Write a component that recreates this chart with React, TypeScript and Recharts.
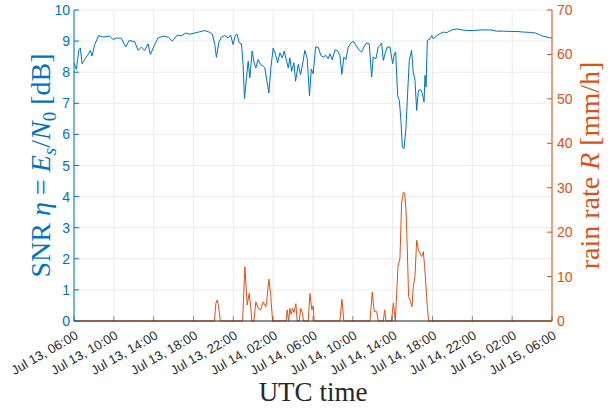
import { CartesianGrid, Line, LineChart, XAxis, YAxis } from "recharts";

// hours after Jul 13, 06:00 UTC
const snrHours = [
  0, 0.24, 0.5, 0.64, 0.81, 1.07, 1.41, 1.64, 1.81, 2.08, 2.48, 2.92, 3.59, 3.92, 4.26, 4.76, 5.2, 5.53, 6.1,
  6.44, 6.77, 7.1, 7.44, 7.67, 8.11, 8.44, 8.95, 9.45, 9.88, 10.35, 10.79, 11.23, 11.63, 12.13, 12.63, 13.14,
  13.57, 13.9, 14.14, 14.3, 14.54, 14.8, 15.14, 15.47, 15.74, 15.97, 16.21, 16.38, 16.58, 16.82, 16.98, 17.12,
  17.32, 17.49, 17.66, 17.89, 18.09, 18.26, 18.49, 18.73, 19.0, 19.16, 19.4, 19.57, 19.77, 20.0, 20.24, 20.44,
  20.68, 20.91, 21.11, 21.35, 21.51, 21.68, 21.85, 22.08, 22.25, 22.52, 22.75, 22.95, 23.18, 23.42, 23.65,
  23.83, 24.02, 24.26, 24.53, 24.79, 25.03, 25.3, 25.53, 25.7, 25.93, 26.2, 26.44, 26.7, 26.9, 27.1, 27.3,
  27.54, 27.81, 28.04, 28.31, 28.61, 28.88, 29.11, 29.38, 29.65, 29.89, 30.05, 30.32, 30.55, 30.72, 30.89,
  31.06, 31.23, 31.46, 31.73, 32.0, 32.17, 32.3, 32.5, 32.67, 32.83, 32.97, 33.14, 33.34, 33.5, 33.67, 33.9,
  34.07, 34.24, 34.41, 34.58, 34.81, 34.98, 35.15, 35.25, 35.35, 35.48, 35.75, 35.92, 36.09, 36.42, 36.76,
  37.1, 37.43, 37.94, 38.44, 38.94, 39.45, 40.12, 40.96, 41.8, 42.47, 43.14, 43.81, 44.48, 45.15, 45.82,
  46.33, 46.83, 47.17, 47.5, 47.84, 48.0,
];
const snrValues = [
  8.3, 8.09, 8.73, 8.78, 8.27, 8.41, 8.57, 8.7, 8.52, 8.89, 9.18, 9.13, 9.16, 9.05, 9.1, 9.09, 8.81, 9.02, 8.98,
  8.7, 8.81, 8.7, 8.91, 8.57, 8.89, 9.1, 9.16, 9.13, 9.0, 9.19, 9.17, 9.26, 9.22, 9.26, 9.3, 9.34,
  9.29, 9.22, 8.89, 8.48, 8.95, 9.13, 9.18, 9.1, 9.19, 8.89, 9.19, 9.22, 8.95, 8.91, 8.25, 7.15,
  7.82, 8.35, 7.82, 8.68, 8.3, 8.14, 8.41, 8.25, 8.19, 8.14, 7.66, 7.33, 8.14, 8.78, 8.57, 8.3,
  8.62, 8.46, 8.68, 8.35, 8.14, 8.46, 8.03, 8.3, 7.71, 8.25, 7.92, 8.25, 8.7, 8.45, 7.24,
  8.1, 7.95, 8.81, 8.8, 8.54, 8.49, 8.54, 8.43, 8.59, 8.4, 8.72, 8.7, 8.54, 7.93, 8.49, 8.4,
  8.81, 8.94, 9.0, 8.86, 8.72, 8.65, 8.81, 8.94, 8.91, 7.84, 8.49, 8.43, 8.81, 8.86, 8.94,
  8.38, 8.59, 8.81, 8.81, 8.27, 8.59, 8.65, 7.25, 7.09, 6.45, 5.59, 5.54, 6.23, 7.31, 8.38, 8.7,
  8.0, 7.74, 6.77, 7.41, 7.44, 7.31, 7.04, 7.9, 7.52, 9.02, 9.07, 9.18, 9.07, 9.18, 9.24,
  9.29, 9.27, 9.36, 9.39, 9.36, 9.34, 9.34, 9.36, 9.36, 9.32, 9.32, 9.31, 9.31, 9.29, 9.28,
  9.26, 9.19, 9.15, 9.13, 9.1, 9.11,
];

const rainHours = [
  0, 14.1, 14.25, 14.37, 14.5, 14.7, 16.93, 17.16, 17.39, 17.59, 17.76, 17.86, 18.06, 18.26, 18.5, 18.73, 19.0,
  19.27, 19.4, 19.57, 19.74, 19.94, 21.3, 21.41, 21.55, 21.68, 21.81, 21.95, 22.1, 22.28, 22.41, 22.6, 22.78,
  22.92, 23.05, 23.52, 23.69, 23.89, 24.02, 24.12, 26.7, 26.9, 27.1, 29.72, 29.95, 30.15, 30.39, 30.56, 31.06,
  31.2, 31.33, 31.87, 32.07, 32.27, 32.4, 32.53, 32.73, 32.9, 33.07, 33.2, 33.34, 33.47, 33.6, 33.8, 33.94,
  34.07, 34.24, 34.41, 34.58, 34.74, 34.91, 35.08, 35.21, 35.35, 35.48, 35.61, 48,
];
const rainValues = [
  0, 0, 4.0, 4.7, 3.5, 0, 0, 12.2, 3.6, 6.2, 2.85, 0, 0, 4.3, 2.85, 2.5, 4.3,
  3.2, 5.5, 9.4, 6.2, 0, 0, 2.5, 0, 2.85, 1.5, 2.85, 1.9, 3.9, 0, 0, 2.85,
  1.9, 0, 0, 6.2, 2.5, 3.4, 0, 0, 4.9, 0, 0, 6.5, 2.1, 2.1, 0, 0,
  2.5, 0, 0, 4.0, 0, 6.2, 12.2, 14.1, 26.5, 29.0, 28.8, 25.0, 16.0, 5.5, 4.3, 3.2,
  7.7, 10.0, 18.2, 16.0, 15.2, 14.5, 15.6, 12.2, 7.7, 3.2, 0, 0,
];

const timeTicks = [0, 4, 8, 12, 16, 20, 24, 28, 32, 36, 40, 44, 48];
const timeLabels = [
  "Jul 13, 06:00", "Jul 13, 10:00", "Jul 13, 14:00", "Jul 13, 18:00", "Jul 13, 22:00",
  "Jul 14, 02:00", "Jul 14, 06:00", "Jul 14, 10:00", "Jul 14, 14:00", "Jul 14, 18:00",
  "Jul 14, 22:00", "Jul 15, 02:00", "Jul 15, 06:00",
];
const snrTicks = [0, 1, 2, 3, 4, 5, 6, 7, 8, 9, 10];
const rainTicks = [0, 10, 20, 30, 40, 50, 60, 70];

const snrData = snrHours.map((t, i) => ({ t, snr: snrValues[i] }));
const rainData = rainHours.map((t, i) => ({ t, rain: rainValues[i] }));

const BLUE = "#0072BD";
const ORANGE = "#D95319";
const DARK = "#262626";
const SANS = "'Liberation Sans', Arial, sans-serif";
const SERIF = "'Liberation Serif', 'Times New Roman', serif";

const BottomTick = ({ x, y, payload }: any) => {
  const label = timeLabels[timeTicks.indexOf(payload.value)];
  const ax = x + 5;
  const ay = y + 17;
  return (
    <g>
      <line x1={x} y1={y} x2={x} y2={y - 5} stroke={DARK} strokeOpacity={0.5} />
      <text
        x={ax}
        y={ay}
        transform={`rotate(-30, ${ax}, ${ay})`}
        textAnchor="end"
        fontSize={13}
        fontFamily={SANS}
        fill={DARK}
      >
        {label}
      </text>
    </g>
  );
};

const TopTick = ({ x, y }: any) => (
  <line x1={x} y1={y} x2={x} y2={y + 5} stroke={DARK} strokeOpacity={0.5} />
);

const LeftTick = ({ x, y, payload }: any) => (
  <g>
    <line x1={x} y1={y} x2={x + 5} y2={y} stroke={BLUE} />
    <text x={x - 4} y={y + 5} textAnchor="end" fontSize={14} fontFamily={SANS} fill={BLUE}>
      {payload.value}
    </text>
  </g>
);

const RightTick = ({ x, y, payload }: any) => (
  <g>
    <line x1={x} y1={y} x2={x - 5} y2={y} stroke={ORANGE} />
    <text x={x + 5} y={y + 5} textAnchor="start" fontSize={14} fontFamily={SANS} fill={ORANGE}>
      {payload.value}
    </text>
  </g>
);

const XLabel = ({ viewBox }: any) => (
  <text
    x={viewBox.x + viewBox.width / 2}
    y={viewBox.y + 80}
    textAnchor="middle"
    fontSize={27}
    fontFamily={SERIF}
    fill={DARK}
  >
    UTC time
  </text>
);

const LeftLabel = ({ viewBox }: any) => {
  const cx = 50;
  const cy = viewBox.y + viewBox.height / 2;
  return (
    <text
      x={cx}
      y={cy}
      transform={`rotate(-90, ${cx}, ${cy})`}
      textAnchor="middle"
      fontSize={28}
      fontFamily={SERIF}
      fill={BLUE}
    >
      SNR <tspan fontStyle="italic">η</tspan> = <tspan fontStyle="italic">E</tspan>
      <tspan fontStyle="italic" fontSize={19} dy={6}>s</tspan>
      <tspan dy={-6}>/</tspan>
      <tspan fontStyle="italic">N</tspan>
      <tspan fontSize={19} dy={6}>0</tspan>
      <tspan dy={-6}> [dB]</tspan>
    </text>
  );
};

const RightLabel = ({ viewBox }: any) => {
  const cx = 599;
  const cy = viewBox.y + viewBox.height / 2;
  return (
    <text
      x={cx}
      y={cy}
      transform={`rotate(-90, ${cx}, ${cy})`}
      textAnchor="middle"
      fontSize={28}
      fontFamily={SERIF}
      fill={ORANGE}
    >
      rain rate <tspan fontStyle="italic">R</tspan> [mm/h]
    </text>
  );
};

export default function App() {
  return (
    <div style={{ position: "absolute", left: 0, top: 0, background: "#fff" }}>
      <LineChart width={616} height={409} margin={{ top: 10, right: 0, bottom: 0, left: 0 }}>
        <CartesianGrid yAxisId="left" stroke="#ececec" />
        <XAxis
          dataKey="t"
          type="number"
          domain={[0, 48]}
          ticks={timeTicks}
          allowDataOverflow
          height={88}
          tickSize={0}
          tickMargin={0}
          tickLine={false}
          axisLine={{ stroke: DARK }}
          tick={<BottomTick />}
          label={XLabel}
        />
        <XAxis
          xAxisId="top"
          orientation="top"
          type="number"
          domain={[0, 48]}
          ticks={timeTicks}
          allowDataOverflow
          height={0}
          tickSize={0}
          tickMargin={0}
          tickLine={false}
          axisLine={{ stroke: "#b5b5b5" }}
          tick={<TopTick />}
        />
        <YAxis
          yAxisId="left"
          domain={[0, 10]}
          ticks={snrTicks}
          width={74}
          tickSize={0}
          tickMargin={0}
          tickLine={false}
          axisLine={{ stroke: BLUE }}
          tick={<LeftTick />}
          label={LeftLabel}
        />
        <YAxis
          yAxisId="right"
          orientation="right"
          domain={[0, 70]}
          ticks={rainTicks}
          width={64}
          tickSize={0}
          tickMargin={0}
          tickLine={false}
          axisLine={{ stroke: ORANGE }}
          tick={<RightTick />}
          label={RightLabel}
        />
        <Line
          data={rainData}
          dataKey="rain"
          yAxisId="right"
          type="linear"
          stroke={ORANGE}
          strokeWidth={1}
          dot={false}
          isAnimationActive={false}
        />
        <Line
          data={snrData}
          dataKey="snr"
          yAxisId="left"
          type="linear"
          stroke={BLUE}
          strokeWidth={1}
          dot={false}
          isAnimationActive={false}
        />
      </LineChart>
    </div>
  );
}
